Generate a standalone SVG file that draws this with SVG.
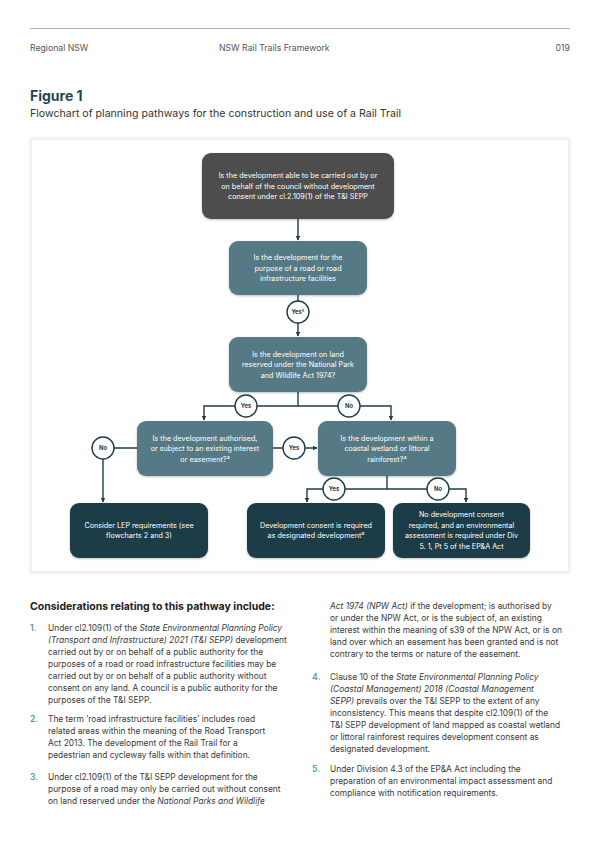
<svg xmlns="http://www.w3.org/2000/svg" width="599" height="848" viewBox="0 0 599 848">
<defs>
<style>
.hdr{font-family:Inter,"Liberation Sans",sans-serif;font-size:8.7px;fill:#555}
.ttl{font-family:Inter,"Liberation Sans",sans-serif;font-size:14px;font-weight:700;fill:#1f4653}
.sub{font-family:Inter,"Liberation Sans",sans-serif;font-size:10.6px;fill:#333}
.bx{font-family:Inter,"Liberation Sans",sans-serif;font-size:7.2px;fill:#fff;text-anchor:middle}
.cl{font-family:Inter,"Liberation Sans",sans-serif;font-size:5.8px;font-weight:700;fill:#1e3d47;text-anchor:middle}
.con{fill:none;stroke:#1e3d47;stroke-width:1.4}
.circ{fill:#fff;stroke:#1e3d47;stroke-width:1.4}
.gray{fill:#4d4d4d}
.teal{fill:#557a86}
.dark{fill:#1e3d47}
.h2{font-family:Inter,"Liberation Sans",sans-serif;font-size:10.5px;font-weight:700;fill:#222}
.bd{font-family:Inter,"Liberation Sans",sans-serif;font-size:8.4px;fill:#3a3a3a}
.num{font-family:Inter,"Liberation Sans",sans-serif;font-size:8.6px;font-weight:600;fill:#5c98ad}
.it{font-style:italic}
</style>
<marker id="ah" viewBox="0 0 10 10" refX="9" refY="5" markerWidth="5" markerHeight="5" orient="auto" markerUnits="userSpaceOnUse">
<path d="M0,0 L10,5 L0,10 z" fill="#1e3d47"/>
</marker>
<filter id="sh" x="-10%" y="-10%" width="120%" height="130%">
<feDropShadow dx="0" dy="1" stdDeviation="1.2" flood-color="#000" flood-opacity="0.25"/>
</filter>
<filter id="psh" x="-5%" y="-5%" width="110%" height="110%">
<feDropShadow dx="0" dy="0" stdDeviation="1.5" flood-color="#000" flood-opacity="0.12"/>
</filter>
</defs>
<rect width="599" height="848" fill="#fff"/>

<g id="header">
<line x1="30" y1="28.5" x2="570" y2="28.5" stroke="#999" stroke-width="0.8"/>
<text class="hdr" x="30" y="51">Regional NSW</text>
<text class="hdr" x="219" y="51">NSW Rail Trails Framework</text>
<text class="hdr" x="570" y="51" text-anchor="end">019</text>
</g>

<g id="title">
<text class="ttl" x="30" y="101">Figure 1</text>
<text class="sub" x="30" y="117">Flowchart of planning pathways for the construction and use of a Rail Trail</text>
</g>

<rect id="panel" x="31" y="139" width="538" height="433" fill="#fff" stroke="#e6e6e6" stroke-width="1" filter="url(#psh)"/>

<g id="connectors">
<path class="con" d="M298,219 V240" marker-end="url(#ah)"/>
<path class="con" d="M298,295 V336" marker-end="url(#ah)"/>
<path class="con" d="M298,392 V406"/>
<path class="con" d="M204,406 H391"/>
<path class="con" d="M204,405.3 V420" marker-end="url(#ah)"/>
<path class="con" d="M391,405.3 V420" marker-end="url(#ah)"/>
<path class="con" d="M137,448 H103 V502" marker-end="url(#ah)"/>
<path class="con" d="M273,448 H317" marker-end="url(#ah)"/>
<path class="con" d="M387,476 V489"/>
<path class="con" d="M307,489 H466"/>
<path class="con" d="M307,488.3 V502" marker-end="url(#ah)"/>
<path class="con" d="M466,488.3 V502" marker-end="url(#ah)"/>
</g>

<g id="n-council">
<rect class="gray" x="202" y="153" width="192" height="66" rx="9" filter="url(#sh)"/>
<text class="bx" x="298" y="178">Is the development able to be carried out by or</text>
<text class="bx" x="298" y="188.5">on behalf of the council without development</text>
<text class="bx" x="298" y="199">consent under cl.2.109(1) of the T&amp;I SEPP</text>
</g>

<g id="n-road">
<rect class="teal" x="229" y="241" width="138" height="54" rx="9" filter="url(#sh)"/>
<text class="bx" x="298" y="260">Is the development for the</text>
<text class="bx" x="298" y="270.5">purpose of a road or road</text>
<text class="bx" x="298" y="281">infrastructure facilities</text>
</g>

<g id="c-yes1">
<circle class="circ" cx="298" cy="312" r="11"/>
<text class="cl" x="298" y="314">Yes²</text>
</g>

<g id="n-npw">
<rect class="teal" x="229" y="337" width="138" height="55" rx="9" filter="url(#sh)"/>
<text class="bx" x="298" y="356.5">Is the development on land</text>
<text class="bx" x="298" y="367">reserved under the National Park</text>
<text class="bx" x="298" y="377.5">and Wildlife Act 1974?</text>
</g>

<g id="c-yes2">
<circle class="circ" cx="246" cy="406" r="11"/>
<text class="cl" x="246" y="408">Yes</text>
</g>
<g id="c-no2">
<circle class="circ" cx="349" cy="406" r="11"/>
<text class="cl" x="349" y="408">No</text>
</g>

<g id="n-authorised">
<rect class="teal" x="137" y="421" width="136" height="55" rx="9" filter="url(#sh)"/>
<text class="bx" x="205" y="440.5">Is the development authorised,</text>
<text class="bx" x="205" y="451">or subject to an existing interest</text>
<text class="bx" x="205" y="461.5">or easement?³</text>
</g>

<g id="n-coastal">
<rect class="teal" x="318" y="421" width="138" height="55" rx="9" filter="url(#sh)"/>
<text class="bx" x="387" y="440.5">Is the development within a</text>
<text class="bx" x="387" y="451">coastal wetland or littoral</text>
<text class="bx" x="387" y="461.5">rainforest?⁴</text>
</g>

<g id="c-no3">
<circle class="circ" cx="103" cy="448" r="11"/>
<text class="cl" x="103" y="450">No</text>
</g>
<g id="c-yes3">
<circle class="circ" cx="294" cy="448" r="11"/>
<text class="cl" x="294" y="450">Yes</text>
</g>
<g id="c-yes4">
<circle class="circ" cx="334" cy="489" r="11"/>
<text class="cl" x="334" y="491">Yes</text>
</g>
<g id="c-no4">
<circle class="circ" cx="438" cy="489" r="11"/>
<text class="cl" x="438" y="491">No</text>
</g>

<g id="n-lep">
<rect class="dark" x="70" y="503" width="138" height="55" rx="9" filter="url(#sh)"/>
<text class="bx" x="139" y="527.5">Consider LEP requirements (see</text>
<text class="bx" x="139" y="538">flowcharts 2 and 3)</text>
</g>

<g id="n-designated">
<rect class="dark" x="247" y="503" width="138" height="55" rx="9" filter="url(#sh)"/>
<text class="bx" x="316" y="527.5">Development consent is required</text>
<text class="bx" x="316" y="538">as designated development⁵</text>
</g>

<g id="n-nodc">
<rect class="dark" x="393" y="503" width="137" height="55" rx="9" filter="url(#sh)"/>
<text class="bx" x="461.5" y="517">No development consent</text>
<text class="bx" x="461.5" y="527.5">required, and an environmental</text>
<text class="bx" x="461.5" y="538">assessment is required under Div</text>
<text class="bx" x="461.5" y="548.5">5. 1, Pt 5 of the EP&amp;A Act</text>
</g>

<g id="notes">
<text class="h2" x="30" y="610">Considerations relating to this pathway include:</text>

<text class="num" x="30" y="631">1.</text>
<text class="bd" x="48" y="631">Under cl2.109(1) of the <tspan class="it">State Environmental Planning Policy</tspan></text>
<text class="bd" x="48" y="643"><tspan class="it">(Transport and Infrastructure) 2021 (T&amp;I SEPP)</tspan> development</text>
<text class="bd" x="48" y="655">carried out by or on behalf of a public authority for the</text>
<text class="bd" x="48" y="667">purposes of a road or road infrastructure facilities may be</text>
<text class="bd" x="48" y="679">carried out by or on behalf of a public authority without</text>
<text class="bd" x="48" y="691">consent on any land. A council is a public authority for the</text>
<text class="bd" x="48" y="703">purposes of the T&amp;I SEPP.</text>

<text class="num" x="30" y="722">2.</text>
<text class="bd" x="48" y="722">The term ‘road infrastructure facilities’ includes road</text>
<text class="bd" x="48" y="734">related areas within the meaning of the Road Transport</text>
<text class="bd" x="48" y="746">Act 2013. The development of the Rail Trail for a</text>
<text class="bd" x="48" y="758">pedestrian and cycleway falls within that definition.</text>

<text class="num" x="30" y="780">3.</text>
<text class="bd" x="48" y="780">Under cl2.109(1) of the T&amp;I SEPP development for the</text>
<text class="bd" x="48" y="792">purpose of a road may only be carried out without consent</text>
<text class="bd" x="48" y="804">on land reserved under the <tspan class="it">National Parks and Wildlife</tspan></text>

<text class="bd" x="330" y="609"><tspan class="it">Act 1974 (NPW Act)</tspan> if the development; is authorised by</text>
<text class="bd" x="330" y="621">or under the NPW Act, or is the subject of, an existing</text>
<text class="bd" x="330" y="633">interest within the meaning of s39 of the NPW Act, or is on</text>
<text class="bd" x="330" y="645">land over which an easement has been granted and is not</text>
<text class="bd" x="330" y="657">contrary to the terms or nature of the easement.</text>

<text class="num" x="312" y="680">4.</text>
<text class="bd" x="330" y="680">Clause 10 of the <tspan class="it">State Environmental Planning Policy</tspan></text>
<text class="bd" x="330" y="692"><tspan class="it">(Coastal Management) 2018 (Coastal Management</tspan></text>
<text class="bd" x="330" y="704"><tspan class="it">SEPP)</tspan> prevails over the T&amp;I SEPP to the extent of any</text>
<text class="bd" x="330" y="716">inconsistency. This means that despite cl2.109(1) of the</text>
<text class="bd" x="330" y="728">T&amp;I SEPP development of land mapped as coastal wetland</text>
<text class="bd" x="330" y="740">or littoral rainforest requires development consent as</text>
<text class="bd" x="330" y="752">designated development.</text>

<text class="num" x="312" y="772">5.</text>
<text class="bd" x="330" y="772">Under Division 4.3 of the EP&amp;A Act including the</text>
<text class="bd" x="330" y="784">preparation of an environmental impact assessment and</text>
<text class="bd" x="330" y="796">compliance with notification requirements.</text>
</g>
</svg>
